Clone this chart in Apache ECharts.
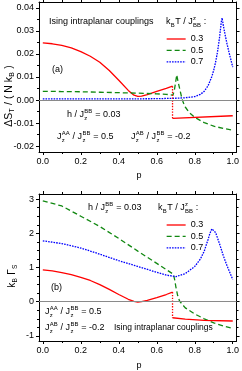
<!DOCTYPE html>
<html><head><meta charset="utf-8">
<script src="https://cdn.jsdelivr.net/npm/echarts@6/dist/echarts.min.js"></script>
<style>html,body{margin:0;padding:0;background:#fff}#c{width:242px;height:371px}</style>
</head><body><div id="c"></div>
<script>
const FONT = '"Liberation Sans", Arial, sans-serif';

// ---------- data ----------
const legendNames = ['0.3', '0.5', '0.7'];
const xTicks = [0, 0.2, 0.4, 0.6, 0.8, 1.0];
const xMinor = [0.1, 0.3, 0.5, 0.7, 0.9];
const yTicksA = [-0.02, -0.01, 0, 0.01, 0.02, 0.03, 0.04];
const yMinorA = [-0.015, -0.005, 0.005, 0.015, 0.025, 0.035];
const yTicksB = [-1, 0, 1, 2, 3];
const yMinorB = [-0.75, -0.5, -0.25, 0.25, 0.5, 0.75, 1.25, 1.5, 1.75, 2.25, 2.5, 2.75];

// panel (a): Delta S_T / (N k_B)
const aRed = [[0,0.0248],[0.05,0.0244],[0.1,0.0237],[0.15,0.0226],[0.2,0.0210],[0.25,0.0190],[0.3,0.0164],[0.35,0.0128],[0.4,0.0086],[0.45,0.0042],[0.48,0.0021],[0.5,0.0016],[0.52,0.0017],[0.55,0.0024],[0.6,0.0038],[0.65,0.0051],[0.683,0.0060]];
const aRedDrop = [[0.683,0.0060],[0.683,-0.0079]];
const aRed2 = [[0.683,-0.0079],[1.0,-0.0068]];
const aGreen = [[0,0.0038],[0.1,0.0037],[0.2,0.0036],[0.3,0.0034],[0.4,0.0032],[0.5,0.0030],[0.6,0.0027],[0.65,0.0025],[0.685,0.0021],[0.692,0.0040],[0.698,0.0070],[0.705,0.0109],[0.712,0.0080],[0.72,0.0052],[0.73,0.0015],[0.74,-0.0012],[0.75,-0.0030],[0.77,-0.0053],[0.8,-0.0075],[0.85,-0.0098],[0.9,-0.0113],[0.95,-0.0123],[1.0,-0.0130]];
const aBlue = [[0,0.0005],[0.2,0.0005],[0.4,0.0005],[0.6,0.0006],[0.7,0.0008],[0.75,0.0010],[0.8,0.0015],[0.83,0.0025],[0.85,0.0038],[0.87,0.0062],[0.89,0.0102],[0.9,0.0130],[0.91,0.0165],[0.92,0.0210],[0.93,0.0268],[0.94,0.0340],[0.944,0.0356],[0.95,0.0325],[0.96,0.0282],[0.97,0.0243],[0.98,0.0208],[0.99,0.0175],[1.0,0.0143]];

// panel (b): k_B Gamma_S
const bRed = [[0,0.93],[0.05,0.90],[0.1,0.85],[0.15,0.79],[0.2,0.71],[0.25,0.62],[0.3,0.50],[0.35,0.36],[0.4,0.21],[0.45,0.07],[0.48,0.01],[0.5,-0.01],[0.52,0.0],[0.55,0.04],[0.6,0.12],[0.65,0.21],[0.683,0.28]];
const bRedDrop = [[0.683,0.28],[0.683,-0.47]];
const bRed2 = [[0.683,-0.47],[0.75,-0.51],[0.85,-0.545],[1.0,-0.565]];
const bGreen = [[0,2.95],[0.1,2.80],[0.2,2.50],[0.3,2.20],[0.4,1.85],[0.5,1.48],[0.6,1.12],[0.65,0.94],[0.688,0.80],[0.695,0.62],[0.70,0.45],[0.71,0.18],[0.72,0.02],[0.75,-0.18],[0.8,-0.36],[0.85,-0.50],[0.9,-0.62],[0.95,-0.71],[1.0,-0.78]];
const bBlue = [[0,1.78],[0.1,1.70],[0.2,1.57],[0.3,1.39],[0.4,1.20],[0.5,1.03],[0.6,0.86],[0.65,0.78],[0.7,0.73],[0.75,0.82],[0.8,1.03],[0.83,1.25],[0.85,1.48],[0.87,1.82],[0.88,2.00],[0.89,2.13],[0.9,2.12],[0.91,2.02],[0.93,1.70],[0.95,1.35],[0.97,1.05],[1.0,0.65]];

// ---------- styling ----------
const RED = '#ff0000', GREEN = '#118811', BLUE = '#0000ff';
const grids = [
  {left: 39, top: 2, width: 200, height: 150},
  {left: 39, top: 194, width: 200, height: 147}
];
const xRange = [-0.02, 1.02];
const yRanges = [[-0.0225, 0.0425], [-1.15, 3.15]];

function axisSet(dim, gi, min, max, major, minor, fmt) {
  const pos = dim === 'x' ? ['bottom', 'top'] : ['left', 'right'];
  const base = {type: 'value', gridIndex: gi, min, max, splitLine: {show: false}, minorTick: {show: false}, animation: false};
  const out = [];
  pos.forEach((p, k) => {
    out.push(Object.assign({}, base, {
      position: p,
      axisLine: {show: true, onZero: false, lineStyle: {color: '#000', width: 1}},
      axisTick: {show: true, inside: false, length: 3, customValues: major, lineStyle: {color: '#000', width: 1}},
      axisLabel: k === 0 ? {show: true, customValues: major, formatter: fmt, fontSize: 9, fontFamily: FONT, color: '#000', margin: 5, showMinLabel: true, showMaxLabel: true} : {show: false}
    }));
    out.push(Object.assign({}, base, {
      position: p,
      axisLine: {show: false, onZero: false},
      axisTick: {show: true, inside: false, length: 2, customValues: minor, lineStyle: {color: '#000', width: 1}},
      axisLabel: {show: false}
    }));
  });
  return out;
}

const xAxes = [], yAxes = [];
[0, 1].forEach(gi => {
  xAxes.push(...axisSet('x', gi, xRange[0], xRange[1], xTicks, xMinor, v => v.toFixed(1)));
  yAxes.push(...axisSet('y', gi, yRanges[gi][0], yRanges[gi][1], gi === 0 ? yTicksA : yTicksB, gi === 0 ? yMinorA : yMinorB,
    gi === 0 ? (v => v.toFixed(2)) : (v => String(Math.round(v)))));
});

function ser(name, data, color, dash, gi, extra) {
  return Object.assign({
    type: 'line', name, data, xAxisIndex: gi * 4, yAxisIndex: gi * 4,
    symbol: 'none', showSymbol: false, animation: false, clip: true,
    lineStyle: {color, width: 1.3, type: dash}, itemStyle: {color}, z: 3
  }, extra || {});
}
const DASH = [5, 3], DOT = [1.6, 1.1], DROP = [1.4, 1.4];
const zeroLine = {silent: true, symbol: ['none', 'none'], label: {show: false}, lineStyle: {color: '#8a8a8a', width: 1, type: 'solid'}, data: [{yAxis: 0}], animation: false};

const series = [
  ser('0.3', aRed, RED, 'solid', 0, {markLine: zeroLine}),
  ser('0.5', aGreen, GREEN, DASH, 0),
  ser('0.7', aBlue, BLUE, DOT, 0),
  ser('a-red-drop', aRedDrop, RED, DROP, 0),
  ser('0.3', aRed2, RED, 'solid', 0),
  ser('0.3', bRed, RED, 'solid', 1, {markLine: zeroLine}),
  ser('0.5', bGreen, GREEN, DASH, 1),
  ser('0.7', bBlue, BLUE, DOT, 1),
  ser('b-red-drop', bRedDrop, RED, DROP, 1),
  ser('0.3', bRed2, RED, 'solid', 1)
];

// ---------- text helpers ----------
const cv = document.createElement('canvas').getContext('2d');
function tw(s, sz) { cv.font = sz + 'px ' + FONT; return cv.measureText(s).width; }
function txt(x, y, s, sz) {
  return {type: 'text', x, y, silent: true, style: {text: s, fontSize: sz, fontFamily: FONT, fill: '#000', verticalAlign: 'middle', align: 'left'}};
}
function rich(x, y, segs, sz, o) {
  o = o || {};
  const kids = []; let cx = 0; const ss = sz * 0.66;
  segs.forEach(g => {
    if (typeof g === 'string') { kids.push(txt(cx, 0, g, sz)); cx += tw(g, sz); }
    else {
      let w = 0; const x0 = cx + 0.3;
      if (g.sup) { kids.push(txt(x0, -sz * 0.4, g.sup, ss)); w = Math.max(w, tw(g.sup, ss)); }
      if (g.sub) { kids.push(txt(x0, sz * 0.33, g.sub, ss)); w = Math.max(w, tw(g.sub, ss)); }
      cx = x0 + w + 0.4;
    }
  });
  const off = o.center ? -cx / 2 : 0;
  kids.forEach(k => { k.x += off; });
  return {type: 'group', x, y, rotation: o.rot || 0, silent: true, children: kids};
}
const Jz = (s) => ({sup: s, sub: 'z'});

const graphics = [
  // panel (a)
  rich(49, 22, ['Ising intraplanar couplings'], 9),
  rich(52, 70, ['(a)'], 9),
  rich(67, 115, ['h / J', Jz('BB'), ' = 0.03'], 9),
  rich(57, 137, ['J', Jz('AA'), ' / J', Jz('BB'), ' = 0.5'], 9),
  rich(131, 137, ['J', Jz('AB'), ' / J', Jz('BB'), ' = -0.2'], 9),
  rich(166, 22, ['k', {sub: 'B'}, 'T / J', {sup: 'z', sub: 'BB'}, ' :'], 9),
  rich(139, 176, ['p'], 9, {center: true}),
  rich(9, 96, ['\u0394S', {sub: 'T'}, ' / ( N k', {sub: 'B'}, ' )'], 10.5, {center: true, rot: Math.PI / 2}),
  // panel (b)
  rich(88, 208, ['h / J', Jz('BB'), ' = 0.03'], 9),
  rich(158, 208, ['k', {sub: 'B'}, 'T / J', {sup: 'z', sub: 'BB'}, ' :'], 9),
  rich(51, 288, ['(b)'], 9),
  rich(45, 312, ['J', Jz('AA'), ' / J', Jz('BB'), ' = 0.5'], 9),
  rich(45, 328, ['J', Jz('AB'), ' / J', Jz('BB'), ' = -0.2'], 9),
  rich(114, 328, ['Ising intraplanar couplings'], 8.5),
  rich(139, 366, ['p'], 9, {center: true}),
  rich(12, 276, ['k', {sub: 'B'}, ' \u0393', {sub: 'S'}], 10, {center: true, rot: Math.PI / 2})
];

function legendAt(top) {
  return {data: legendNames, orient: 'vertical', left: 166, top, padding: 0, itemWidth: 19, itemHeight: 10, itemGap: 1.4,
    selectedMode: false, itemStyle: {opacity: 0, borderWidth: 0}, lineStyle: {width: 1.3},
    textStyle: {fontSize: 9, fontFamily: FONT, color: '#000', lineHeight: 10}};
}

const chart = echarts.init(document.getElementById('c'), null, {renderer: 'canvas'});
chart.setOption({
  animation: false,
  backgroundColor: '#fff',
  grid: grids,
  xAxis: xAxes,
  yAxis: yAxes,
  legend: [legendAt(34), legendAt(220)],
  series,
  graphic: graphics
});
</script></body></html>
